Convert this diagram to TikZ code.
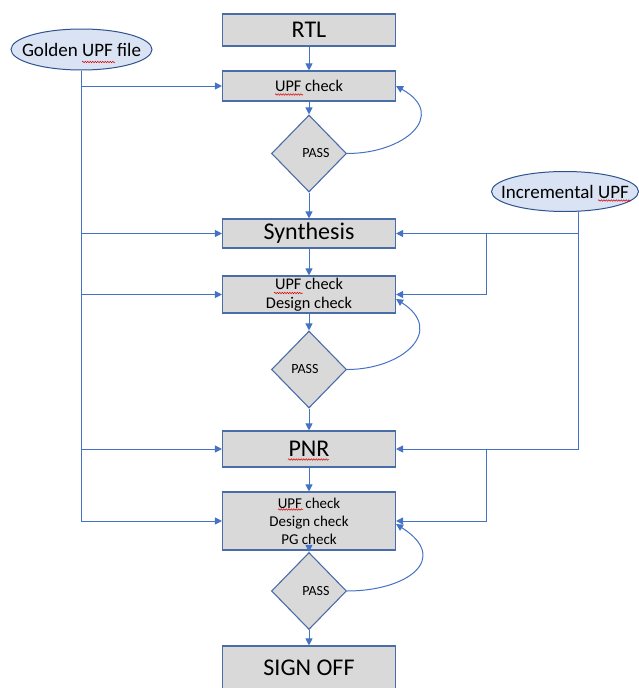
\documentclass[tikz,border=0pt]{standalone}
\usepackage{fontspec}
\setmainfont{Carlito}
\usetikzlibrary{shapes.geometric,arrows.meta,decorations.pathmorphing}
\definecolor{conn}{HTML}{4472C4}
\definecolor{boxline}{HTML}{4A6CA8}
\definecolor{boxfill}{HTML}{D9D9D9}
\definecolor{ellfill}{HTML}{DAE3F3}
\definecolor{ellline}{HTML}{2F528F}
\begin{document}
\begin{tikzpicture}[x=1pt,y=-1pt,
 procbox/.style={draw=boxline,line width=1.1pt,fill=boxfill,minimum width=173pt,inner sep=0pt,align=center},
 bigtext/.style={font=\fontsize{24}{28}\selectfont},
 decision/.style={diamond,draw=boxline,line width=1.1pt,fill=boxfill,minimum width=75pt,minimum height=77pt,inner sep=0pt,font=\fontsize{14}{16}\selectfont},
 source/.style={ellipse,draw=ellline,line width=1pt,fill=ellfill,inner sep=0pt,font=\fontsize{19}{22}\selectfont},
 flow/.style={draw=conn,line width=1pt,-{Triangle[length=7pt,width=7pt]}},
 feed/.style={draw=conn,line width=1pt},
 squiggle/.style={draw=red!85!black,line width=0.5pt,decorate,decoration={snake,segment length=2.5pt,amplitude=0.7pt}}]
\useasboundingbox (0,0) rectangle (639,688);

% main column
\node[procbox,bigtext,minimum height=32pt] (rtl) at (309,30) {RTL};
\node[procbox,minimum height=30pt,font=\fontsize{16.3}{19}\selectfont] (c1) at (309,86) {UPF check};
\node[decision] (d1) at (309,153.5) {\hspace*{14pt}PASS};
\node[procbox,bigtext,minimum height=29pt] (syn) at (309,233.5) {Synthesis};
\node[procbox,minimum height=37pt,font=\fontsize{16.3}{19}\selectfont] (c2) at (309,294.5) {UPF check\\Design check};
\node[decision] (d2) at (309,369.5) {PASS\hspace*{8pt}};
\node[procbox,bigtext,minimum height=36pt] (pnr) at (309,449) {PNR};
\node[procbox,minimum height=58pt,font=\fontsize{15}{18}\selectfont] (c3) at (309,521) {UPF check\\Design check\\PG check};
\node[decision] (d3) at (309,591) {\hspace*{14pt}PASS};
\node[procbox,bigtext,minimum height=44pt] (so) at (309,668) {SIGN OFF};

% sources
\node[source,minimum width=141pt,minimum height=41pt] (gold) at (81.5,49.5) {\makebox[0pt]{Golden UPF file}};
\node[source,minimum width=147pt,minimum height=40pt] (inc) at (565,191.5) {\makebox[0pt]{Incremental UPF}};

% vertical flow
\draw[flow] (rtl.south) -- (c1.north);
\draw[flow] (c1.south) -- (d1.north);
\draw[flow] (d1.south) -- (syn.north);
\draw[flow] (syn.south) -- (c2.north);
\draw[flow] (c2.south) -- (d2.north);
\draw[flow] (d2.south) -- (pnr.north);
\draw[flow] (pnr.south) -- (c3.north);
\draw[flow] (c3.south) -- (d3.north);
\draw[flow] (d3.south) -- (so.north);

% feedback loops
\draw[flow] (d1.east) .. controls +(58,0) and +(52,29) .. (c1.east);
\draw[flow] (d2.east) .. controls +(55,0) and +(50,32) .. ([yshift=-4.5pt]c2.east);
\draw[flow] (d3.east) .. controls +(60,0) and +(55,35) .. ([yshift=-3pt]c3.east);

% golden UPF feeds
\draw[flow] (gold.south) |- (c3.west);
\draw[flow] (gold.south |- c1.west) -- (c1.west);
\draw[flow] (gold.south |- syn.west) -- (syn.west);
\draw[flow] (gold.south |- c2.west) -- (c2.west);
\draw[flow] (gold.south |- pnr.west) -- (pnr.west);

% incremental UPF feeds
\coordinate (it) at (578,211.2);
\coordinate (j1) at (486,0);
\draw[flow] (it) |- (pnr.east);
\draw[flow] (it |- syn.east) -- (syn.east);
\draw[flow] (j1 |- syn.east) |- (c2.east);
\draw[flow] (j1 |- pnr.east) |- (c3.east);

% spell-check squiggles
\draw[squiggle] (82,62) -- (115,62);
\draw[squiggle] (275,94.5) -- (303,94.5);
\draw[squiggle] (598,200.5) -- (631,200.5);
\draw[squiggle] (274,293) -- (303,293);
\draw[squiggle] (288,459.5) -- (329,459.5);
\draw[squiggle] (278,509.5) -- (303,509.5);
\end{tikzpicture}
\end{document}
